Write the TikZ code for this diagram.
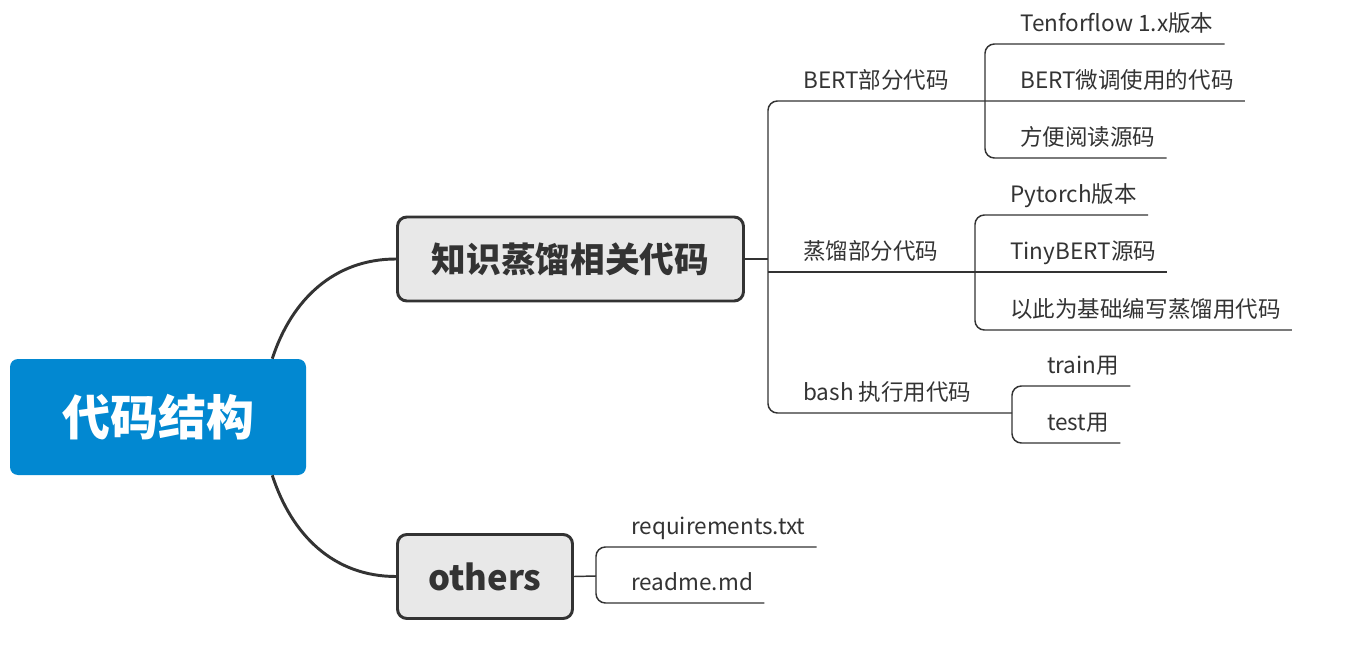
\documentclass[tikz,border=0pt]{standalone}
\usepackage{fontspec}
\setmainfont{Noto Sans CJK SC}
\usetikzlibrary{positioning}
\definecolor{rootblue}{RGB}{2,136,209}
\definecolor{topicgray}{RGB}{232,232,232}
\definecolor{inkgray}{RGB}{51,51,51}
\tikzset{
  rootbox/.style={
    rounded corners=6pt,
    fill=rootblue,
    text=white,
    inner sep=0pt,
    minimum width=222pt,
    minimum height=87pt,
    font=\bfseries\fontsize{36}{40}\selectfont
  },
  topicbox/.style={
    rounded corners=7pt,
    draw=inkgray,
    line width=2.2pt,
    fill=topicgray,
    text=inkgray,
    inner sep=0pt,
    minimum height=63pt,
    font=\bfseries\fontsize{26}{30}\selectfont
  },
  leaf/.style={anchor=south west, inner xsep=8.25pt, inner ysep=9.3pt,
    text depth=0pt, text=inkgray, font=\fontsize{16.9}{20}\selectfont},
  trunk/.style={draw=inkgray, line width=2.2pt},
  branch/.style={draw=inkgray, line width=1.1pt, rounded corners=7pt}
}

\begin{document}
\begin{tikzpicture}[x=0.75pt, y=-0.75pt]
    \useasboundingbox (0,0) rectangle (1360,652);
    % main topics
    \node[rootbox] (root) at (158,417) {代码结构};
    \node[topicbox, minimum width=259.5pt] (kd) at (570.5,259) {知识蒸馏相关代码};
    \node[topicbox, minimum width=131.25pt] (oth) at (485,576.5) {others};
    \draw[trunk] ([xshift=-25.5pt]root.north east) to[out=72, in=180] (kd.west);
    \draw[trunk] ([xshift=-25.5pt]root.south east) to[out=-72, in=180] (oth.west);
    % bracket positions
    \coordinate (brkM) at (768,259);
    \coordinate (brkA) at (985,101);
    \coordinate (brkB) at (975,272);
    \coordinate (brkC) at (1012,413);
    \coordinate (brkO) at (596,576);
    % subtopics
    \node[leaf] (bert) at (792,101) {BERT部分代码};
    \node[leaf] (dist) at (792,272) {蒸馏部分代码};
    \node[leaf] (bash) at (792,413) {bash 执行用代码};
    \node[leaf] (tf) at (1009,44) {Tenforflow 1.x版本};
    \node[leaf] (ft) at (1009,101) {BERT微调使用的代码};
    \node[leaf] (rd) at (1009,158) {方便阅读源码};
    \node[leaf] (pt) at (999,215) {Pytorch版本};
    \node[leaf] (tb) at (999,272) {TinyBERT源码};
    \node[leaf] (bs) at (999,330) {以此为基础编写蒸馏用代码};
    \node[leaf] (tr) at (1036,386) {train用};
    \node[leaf] (te) at (1036,443) {test用};
    \node[leaf] (req) at (620,547) {requirements.txt};
    \node[leaf] (rdm) at (620,603) {readme.md};
    % connectors
    \draw[branch] (kd.east) -- (brkM);
    \draw[branch] (ft.south east) -- (bert.south west -| brkM) -- (bash.south west -| brkM) -- (brkC);
    \draw[branch] (brkM |- dist.south) -- (tb.south east);
    \draw[branch] (tf.south east) -- (tf.south west -| brkA) -- (rd.south west -| brkA) -- (rd.south east);
    \draw[branch] (pt.south east) -- (pt.south west -| brkB) -- (bs.south west -| brkB) -- (bs.south east);
    \draw[branch] (tr.south east) -- (tr.south west -| brkC) -- (te.south west -| brkC) -- (te.south east);
    \draw[branch] (oth.east) -- (brkO);
    \draw[branch] (req.south east) -- (req.south west -| brkO) -- (rdm.south west -| brkO) -- (rdm.south east);
  \end{tikzpicture}
\end{document}
